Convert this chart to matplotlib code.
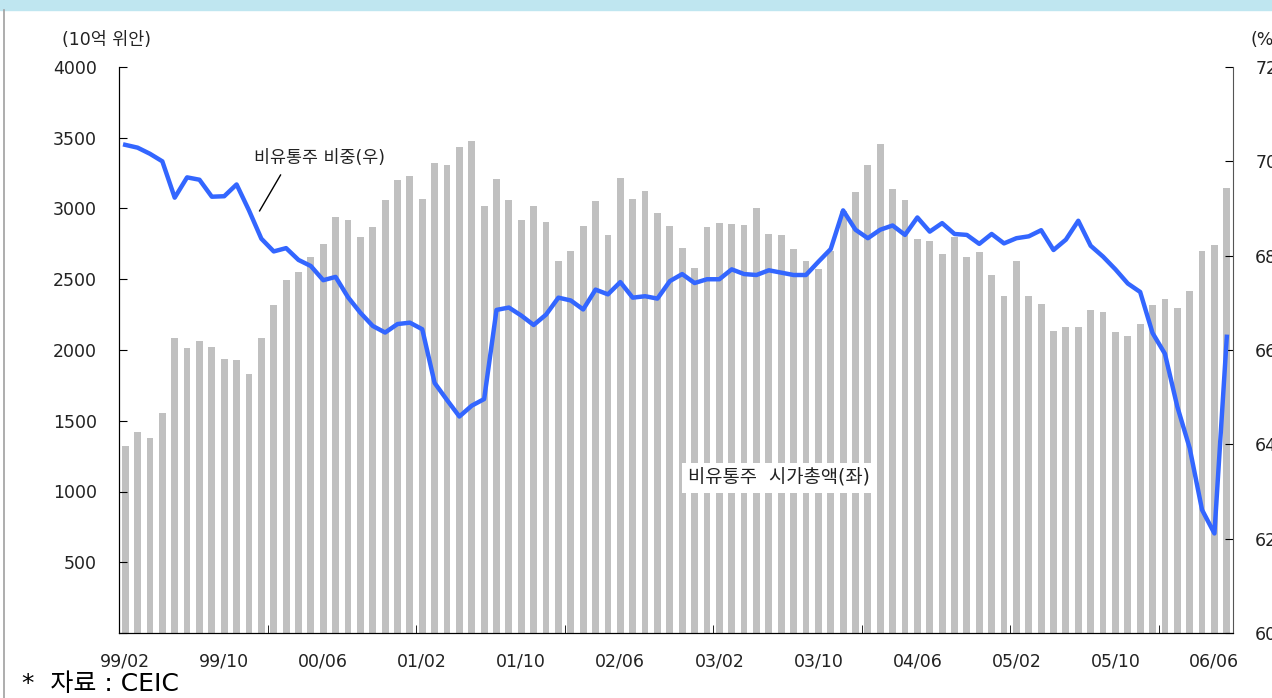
import numpy as np
import matplotlib.pyplot as plt
from matplotlib.patches import Rectangle
from matplotlib.lines import Line2D

plt.rcParams['font.family'] = ['DejaVu Sans', 'Noto Sans CJK KR']

# 월별 99/02 ~ 06/07
months = []
for y in range(1999, 2007):
    for m in range(1, 13):
        if (y == 1999 and m < 2) or (y == 2006 and m > 7):
            continue
        months.append('%02d/%02d' % (y % 100, m))

# 비유통주 시가총액 (10억 위안, 좌)
mkt_cap = [1319, 1424, 1381, 1557, 2086, 2014, 2064, 2021, 1938, 1931,
           1833, 2086, 2319, 2495, 2550, 2655, 2748, 2943, 2921, 2798,
           2871, 3057, 3202, 3231, 3069, 3324, 3310, 3436, 3479, 3019,
           3210, 3062, 2921, 3019, 2907, 2629, 2702, 2879, 3055, 2810,
           3217, 3069, 3126, 2971, 2879, 2724, 2583, 2871, 2900, 2893,
           2886, 3000, 2817, 2810, 2715, 2630, 2570, 2700, 2980, 3119,
           3310, 3457, 3140, 3062, 2781, 2767, 2681, 2802, 2655, 2695,
           2533, 2379, 2626, 2379, 2324, 2133, 2162, 2162, 2281, 2267,
           2126, 2098, 2181, 2317, 2357, 2295, 2414, 2702, 2743, 3148]

# 비유통주 비중 (%, 우)
share = [70.35, 70.29, 70.16, 70.00, 69.23, 69.66, 69.61, 69.25, 69.26, 69.51,
         68.96, 68.36, 68.09, 68.16, 67.91, 67.78, 67.48, 67.55, 67.12, 66.79,
         66.51, 66.37, 66.55, 66.58, 66.44, 65.30, 64.94, 64.59, 64.82, 64.96,
         66.85, 66.90, 66.73, 66.53, 66.75, 67.11, 67.05, 66.86, 67.28, 67.18,
         67.44, 67.11, 67.14, 67.09, 67.46, 67.61, 67.42, 67.50, 67.50, 67.71,
         67.61, 67.59, 67.69, 67.64, 67.59, 67.59, 67.87, 68.14, 68.96, 68.55,
         68.37, 68.55, 68.64, 68.44, 68.81, 68.51, 68.69, 68.46, 68.44, 68.25,
         68.46, 68.26, 68.37, 68.41, 68.54, 68.12, 68.34, 68.74, 68.21, 67.98,
         67.71, 67.41, 67.23, 66.36, 65.92, 64.80, 63.92, 62.61, 62.11, 66.28]

x = np.arange(len(months))

fig = plt.figure(figsize=(12.72, 6.98), dpi=100)
fig.patches.append(Rectangle((0, 1 - 10/698), 1, 10/698, transform=fig.transFigure,
                             color='#bfe6f0', zorder=0))
fig.lines.append(Line2D([4/1272, 4/1272], [0, 1 - 10/698], transform=fig.transFigure,
                        color='#a0a0a0', lw=1.2))

ax = fig.add_axes([119/1272, 1 - 633/698, (1233 - 119)/1272, (633 - 67)/698])
ax.bar(x, mkt_cap, width=0.55, color='#c0c0c0', zorder=1)
ax.set_xlim(-0.5, len(months) - 0.5)
ax.set_ylim(0, 4000)
ax.set_yticks(np.arange(0, 4001, 500))
ax.set_yticklabels([''] + [str(v) for v in range(500, 4001, 500)])
ax.tick_params(axis='y', direction='in', length=6, pad=16, labelsize=12.5, labelcolor='#222222')

ax.set_xticks(x[::8])
ax.set_xticklabels(months[::8])
ax.tick_params(axis='x', length=0, pad=14, labelsize=12.5, labelcolor='#222222')
ax.set_xticks(np.arange(11.5, len(months), 12), minor=True)
ax.tick_params(axis='x', which='minor', direction='in', length=6)
ax.spines['top'].set_visible(False)
ax.spines['right'].set_visible(False)

ax2 = ax.twinx()
ax2.plot(x, share, color='#3366ff', lw=3.2, zorder=3)
ax2.set_ylim(60, 72)
ax2.set_yticks(np.arange(60, 73, 2))
ax2.tick_params(axis='y', direction='in', length=6, pad=16, labelsize=12.5, labelcolor='#222222')
ax2.spines['top'].set_visible(False)
ax2.spines['right'].set_color('#555555')

ax2.text(10.4, 70.07, '비유통주 비중(우)', fontsize=12.5, va='center', ha='left', color='#222222')
ax2.plot([12.55, 10.86], [69.71, 68.95], color='black', lw=1)
ax.text(52.8, 1095, '비유통주  시가총액(좌)', fontsize=13.5, va='center', ha='center',
        color='#222222', zorder=5,
        bbox=dict(facecolor='white', edgecolor='none', pad=4))

fig.text(62/1272, 1 - 40/698, '(10억 위안)', fontsize=12.5, va='center', ha='left', color='#222222')
fig.text(1250/1272, 1 - 40/698, '(%)', fontsize=12.5, va='center', ha='left', color='#222222')
fig.text(22/1272, 1 - 684/698, '*  자료 : CEIC', fontsize=18, va='center', ha='left')

fig.savefig('out.png', dpi=100)
